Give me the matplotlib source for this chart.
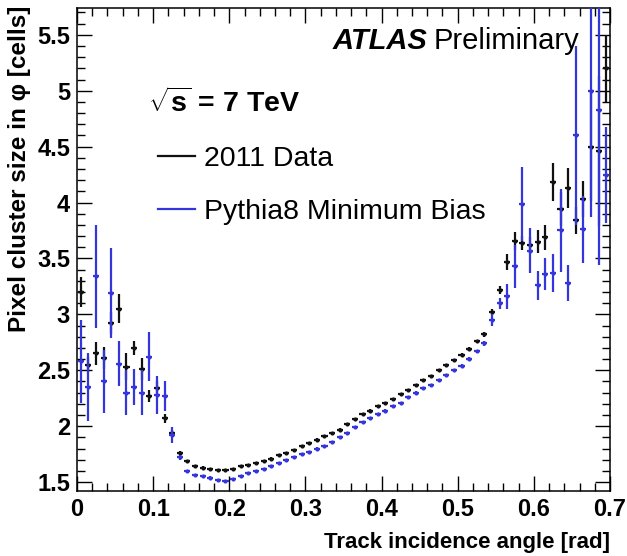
import numpy as np
import matplotlib
matplotlib.use('Agg')
import matplotlib.pyplot as plt
import matplotlib.ticker as ticker
from matplotlib.lines import Line2D

plt.rcParams['font.family'] = ['Liberation Sans', 'DejaVu Sans']
plt.rcParams['mathtext.fontset'] = 'custom'
plt.rcParams['mathtext.rm'] = 'Liberation Sans'
plt.rcParams['mathtext.bf'] = 'Liberation Sans:bold'

# bins of track incidence angle [rad], 0.01 wide from 0 to 0.7
bordes = np.linspace(0.0, 0.7, 71)
centros = 0.5 * (bordes[1:] + bordes[:-1])

# 2011 data
datos_val = [3.20, 2.55, 2.65, 2.61, 2.92, 3.05, 2.53, 2.70, 2.51, 2.27,
             2.34, 2.07, 1.94, 1.76, 1.69, 1.64, 1.63, 1.62, 1.61, 1.61,
             1.62, 1.64, 1.65, 1.67, 1.69, 1.71, 1.74, 1.76, 1.79, 1.82,
             1.85, 1.88, 1.91, 1.94, 1.97, 2.02, 2.06, 2.11, 2.14, 2.18,
             2.21, 2.24, 2.29, 2.32, 2.37, 2.41, 2.45, 2.50, 2.55, 2.59,
             2.64, 2.69, 2.76, 2.82, 3.02, 3.22, 3.47, 3.66, 3.64, 3.62,
             3.65, 3.69, 4.18, 3.94, 4.13, 3.84, 4.03, 4.50, 4.46, 5.20]
datos_err = [0.13, 0.07, 0.10, 0.10, 0.10, 0.13, 0.12, 0.06, 0.10, 0.05,
             0.06, 0.04, 0.03, 0.02, 0.01, 0.01, 0.01, 0.01, 0.01, 0.01,
             0.01, 0.01, 0.01, 0.01, 0.01, 0.01, 0.01, 0.01, 0.01, 0.01,
             0.01, 0.01, 0.01, 0.01, 0.01, 0.01, 0.01, 0.01, 0.01, 0.01,
             0.01, 0.01, 0.01, 0.01, 0.01, 0.01, 0.01, 0.01, 0.01, 0.01,
             0.015, 0.015, 0.015, 0.02, 0.03, 0.035, 0.07, 0.08, 0.06, 0.07,
             0.10, 0.11, 0.17, 0.15, 0.18, 0.12, 0.16, 0.49, 0.67, 0.30]

# Pythia8 minimum bias
mc_val = [2.58, 2.35, 3.34, 2.40, 3.19, 2.56, 2.30, 2.35, 2.30, 2.62,
          2.28, 2.27, 1.92, 1.72, 1.60, 1.56, 1.55, 1.54, 1.52, 1.51,
          1.53, 1.55, 1.58, 1.60, 1.62, 1.64, 1.67, 1.70, 1.72, 1.75,
          1.77, 1.80, 1.82, 1.86, 1.90, 1.94, 1.99, 2.04, 2.07, 2.11,
          2.14, 2.18, 2.21, 2.26, 2.30, 2.34, 2.37, 2.41, 2.46, 2.50,
          2.54, 2.60, 2.67, 2.74, 2.95, 3.10, 3.16, 3.43, 3.99, 3.57,
          3.26, 3.36, 3.37, 3.75, 3.28, 4.60, 3.76, 5.00, 4.83, 4.25]
mc_err = [0.37, 0.30, 0.46, 0.28, 0.40, 0.20, 0.20, 0.16, 0.20, 0.22,
          0.17, 0.13, 0.07, 0.02, 0.01, 0.01, 0.01, 0.01, 0.01, 0.01,
          0.01, 0.01, 0.01, 0.01, 0.01, 0.01, 0.01, 0.01, 0.01, 0.01,
          0.01, 0.01, 0.01, 0.01, 0.01, 0.01, 0.01, 0.01, 0.01, 0.01,
          0.01, 0.01, 0.01, 0.01, 0.01, 0.01, 0.01, 0.01, 0.01, 0.01,
          0.015, 0.015, 0.015, 0.02, 0.05, 0.05, 0.11, 0.19, 0.33, 0.20,
          0.13, 0.14, 0.17, 0.37, 0.16, 0.80, 0.30, 1.13, 1.39, 0.43]

negro = '#111111'
azul = '#3535dc'

W, H = 627, 556
fig = plt.figure(figsize=(W / 100, H / 100), dpi=100)
ax = fig.add_axes([77 / W, (H - 491) / H, (610 - 77) / W, (491 - 8) / H])

ax.errorbar(centros, datos_val, yerr=datos_err, xerr=0.004, fmt='o', ms=2.0,
            color=negro, elinewidth=1.6, capsize=0, zorder=3)
ax.errorbar(centros, mc_val, yerr=mc_err, xerr=0.004, fmt='o', ms=2.0,
            color=azul, elinewidth=1.6, capsize=0, zorder=4)

ax.set_xlim(0, 0.7)
ax.set_ylim(1.42, 5.74)

ax.xaxis.set_major_locator(ticker.MultipleLocator(0.1))
ax.xaxis.set_minor_locator(ticker.MultipleLocator(0.02))
ax.yaxis.set_major_locator(ticker.MultipleLocator(0.5))
ax.yaxis.set_minor_locator(ticker.MultipleLocator(0.1))
ax.xaxis.set_major_formatter(ticker.FuncFormatter(lambda v, p: '{0:g}'.format(round(v, 2))))
ax.yaxis.set_major_formatter(ticker.FuncFormatter(lambda v, p: '{0:g}'.format(round(v, 2))))

ax.tick_params(which='both', direction='in', top=True, right=True, width=1.0)
ax.tick_params(which='major', length=10.5, labelsize=17, pad=5)
ax.tick_params(which='minor', length=5.5)
for lab in ax.get_xticklabels() + ax.get_yticklabels():
    lab.set_fontweight('bold')
for sp in ax.spines.values():
    sp.set_linewidth(1.1)

fig.text(610 / W, 1 - 553 / H, 'Track incidence angle [rad]', ha='right', va='bottom',
         fontsize=16, fontweight='bold')
fig.text(8 / W, 1 - 6 / H, 'Pixel cluster size in φ [cells]', rotation=90, ha='left',
         va='top', fontsize=17.5, fontweight='bold')

fig.text(333 / W, 1 - 49 / H, 'ATLAS', fontsize=21, fontweight='bold',
         style='italic', ha='left', va='baseline')
fig.text(434 / W, 1 - 49 / H, 'Preliminary', fontsize=21, ha='left', va='baseline')
fig.text(148 / W, 1 - 112 / H, r'$\sqrt{\mathbf{s}}$' + ' = 7 TeV', fontsize=20.5,
         fontweight='bold', ha='left', va='baseline')

manijas = [Line2D([], [], color=negro, lw=1.6), Line2D([], [], color=azul, lw=1.6)]
ley = ax.legend(manijas, ['2011 Data', 'Pythia8 Minimum Bias'], loc='upper left',
                bbox_to_anchor=(158 / W, 1 - 146 / H), bbox_transform=fig.transFigure,
                frameon=False, fontsize=20.5, handlelength=1.3, handletextpad=0.3,
                labelspacing=0.95, borderpad=0, borderaxespad=0)

plt.savefig('out.png', dpi=100)
